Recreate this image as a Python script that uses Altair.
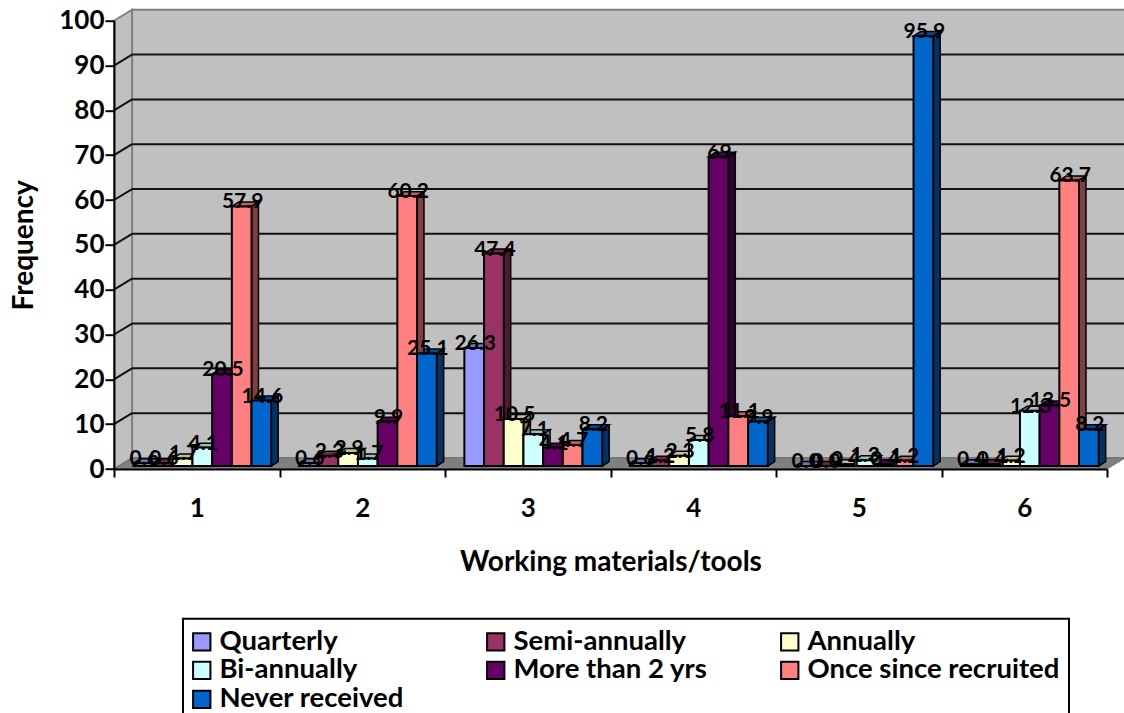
import altair as alt
import pandas as pd

groups = [1, 2, 3, 4, 5, 6]
series = ["Quarterly", "Semi-annually", "Annually", "Bi-annually",
          "More than 2 yrs", "Once since recruited", "Never received"]
front_colors = ["#9999FF", "#993366", "#FFFFCC", "#CCFFFF", "#660066", "#FF8080", "#0066CC"]
side_colors = ["#4D4D80", "#4D1933", "#808066", "#668080", "#330033", "#804040", "#003366"]
top_colors = ["#7373BF", "#73264D", "#BFBF99", "#99BFBF", "#4D004D", "#BF6060", "#004D99"]

quarterly = [0.6, 0.6, 26.3, 0.6, 0.0, 0.4]
semi_annually = [0.6, 2.3, 47.4, 1.2, 0.0, 0.4]
annually = [1.7, 2.9, 10.5, 2.3, 0.4, 1.2]
bi_annually = [4.1, 1.7, 7.1, 5.8, 1.3, 12.3]
more_than_2 = [20.5, 9.9, 4.1, 69, 0.4, 13.5]
once_since = [57.9, 60.2, 4.7, 11.1, 1.2, 63.7]
never = [14.6, 25.1, 8.2, 9.9, 95.9, 8.2]
table = [quarterly, semi_annually, annually, bi_annually, more_than_2, once_since, never]

FONT = "Lato"
BASE = 0.67           # the bars stand on the floor, a little behind the axis plane
BAR_START = 0.117     # gap before the first bar of a group, in group units
BAR_W = 0.119
BAR_DX, BAR_DY = 0.042, 1.0        # depth of a bar
WALL_DX, WALL_DY = 0.109, 2.45     # depth of the back wall
RIGHT = 6 + WALL_DX
grid_values = list(range(10, 100, 10))
top_value = 100 + WALL_DY

fronts, sides, tops = [], [], []
for s, name in enumerate(series):
    for g, group in enumerate(groups):
        v = table[s][g]
        x0 = g + BAR_START + s * BAR_W
        x1 = x0 + BAR_W
        bar = f"{s}-{g}"
        top = BASE + v
        fronts.append(dict(series=name, x=x0, x2=x1, y=BASE, y2=top,
                           mid=(x0 + x1) / 2, label=f"{v:g}" if v != 0 else "0.0"))
        for t in (0, 1):
            sides.append(dict(bar=bar, color=side_colors[s], x=x1 + t * BAR_DX,
                              y=BASE + t * BAR_DY, y2=top + t * BAR_DY))
            tops.append(dict(bar=bar, color=top_colors[s], x=x0 + t * BAR_DX,
                             x2=x1 + t * BAR_DX, y=top + t * BAR_DY))
fronts, sides, tops = map(pd.DataFrame, (fronts, sides, tops))

x_scale = alt.Scale(domain=[0, 6], nice=False, zero=False)
y_scale = alt.Scale(domain=[0, 100], nice=False)


def X(field="x"):
    return alt.X(f"{field}:Q", scale=x_scale, axis=None)


def Y(field="y"):
    return alt.Y(f"{field}:Q", scale=y_scale, axis=None)


x_axis = alt.Axis(
    values=[i / 2 for i in range(13)],
    labelExpr="datum.value % 1 == 0.5 ? floor(datum.value) + 1 : ''",
    tickOpacity={"condition": {"test": "datum.value % 1 == 0.5", "value": 0}, "value": 1},
    grid=False, labelOverlap=False, labelFont=FONT, labelFontWeight="bold", labelFontSize=26,
    labelColor="black", labelPadding=18, labelAngle=0, tickColor="black", tickWidth=2,
    tickSize=8, domainColor="black", domainWidth=2, zindex=1,
    title="Working materials/tools", titleFont=FONT, titleFontWeight="bold", titleFontSize=28,
    titleColor="black", titlePadding=27,
)
y_axis = alt.Axis(
    values=list(range(0, 101, 10)), grid=False, labelFont=FONT, labelFontWeight="bold",
    labelFontSize=26, labelColor="black", labelPadding=1, tickColor="black", tickWidth=2,
    tickSize=9, domainColor="black", domainWidth=2, zindex=1,
    title="Frequency", titleFont=FONT, titleFontWeight="bold", titleFontSize=28,
    titleColor="black", titlePadding=20,
)

# back wall, carrying both axes
wall = alt.Chart(pd.DataFrame(dict(x=[WALL_DX, RIGHT], y=[WALL_DY] * 2, y2=[top_value] * 2))).mark_area(
    color="#C0C0C0", stroke="#808080", strokeWidth=2
).encode(alt.X("x:Q", scale=x_scale, axis=x_axis), alt.Y("y:Q", scale=y_scale, axis=y_axis), alt.Y2("y2"))

left_wall = alt.Chart(pd.DataFrame(dict(x=[0, WALL_DX], y=[0, WALL_DY], y2=[100, top_value]))).mark_area(
    color="#C0C0C0", stroke="#808080", strokeWidth=2
).encode(X(), Y(), alt.Y2("y2"))

floor = alt.Chart(pd.DataFrame(dict(y=[0, WALL_DY], x=[0, WALL_DX], x2=[6, RIGHT]))).mark_area(
    orient="horizontal", color="#808080", stroke="#707070", strokeWidth=1
).encode(X(), alt.X2("x2"), Y())

grid = alt.Chart(pd.DataFrame(dict(y=[v + WALL_DY for v in grid_values], x=WALL_DX, x2=RIGHT))).mark_rule(
    color="#111111", strokeWidth=2
).encode(X(), alt.X2("x2"), Y())

diagonals = pd.DataFrame(
    [dict(tick=v, x=t * WALL_DX, y=v + t * WALL_DY) for v in grid_values for t in (0, 1)]
)
diag = alt.Chart(diagonals).mark_line(color="#111111", strokeWidth=2).encode(X(), Y(), detail="tick:N")

top_faces = alt.Chart(tops).mark_area(orient="horizontal", stroke="black", strokeWidth=1.5).encode(
    X(), alt.X2("x2"), Y(), detail="bar:N", fill=alt.Fill("color:N", scale=None, legend=None)
)
side_faces = alt.Chart(sides).mark_area(stroke="black", strokeWidth=1.5).encode(
    X(), Y(), alt.Y2("y2"), detail="bar:N", fill=alt.Fill("color:N", scale=None, legend=None)
)

front_faces = alt.Chart(fronts).mark_rect(stroke="black", strokeWidth=2).encode(
    X(), alt.X2("x2"), Y(), alt.Y2("y2"),
    fill=alt.Fill(
        "series:N",
        scale=alt.Scale(domain=series, range=front_colors),
        legend=alt.Legend(
            title=None, orient="none", legendX=69, legendY=598, columns=3, gridAlign="all",
            direction="horizontal",
            symbolType="square", symbolSize=300, symbolStrokeColor="black", symbolStrokeWidth=2,
            symbolOffset=-4,
            labelFont=FONT, labelFontWeight="bold", labelFontSize=27.5, labelColor="black",
            labelLimit=400, labelOffset=4, rowPadding=0, columnPadding=11, padding=9,
            strokeColor="black",
        ),
    ),
)

labels = alt.Chart(fronts).mark_text(
    font=FONT, fontWeight="bold", fontSize=21, color="black", baseline="middle", dy=-4, dx=1
).encode(alt.X("mid:Q", scale=x_scale, axis=None), alt.Y("y2:Q", scale=y_scale, axis=None), text="label:N")

chart = (
    alt.layer(wall, left_wall, floor, grid, diag, top_faces, side_faces, front_faces, labels)
    .resolve_scale(fill="independent")
    .resolve_axis(x="independent", y="independent")
    .properties(
        width=993, height=448.3, autosize="none",
        padding={"left": 114, "top": 20.7, "right": 17, "bottom": 244},
        background="white",
    )
    .configure_view(stroke=None)
    .configure_legend(strokeWidth=2)
)

chart.save("out.html", embed_options={"renderer": "svg", "actions": False})
